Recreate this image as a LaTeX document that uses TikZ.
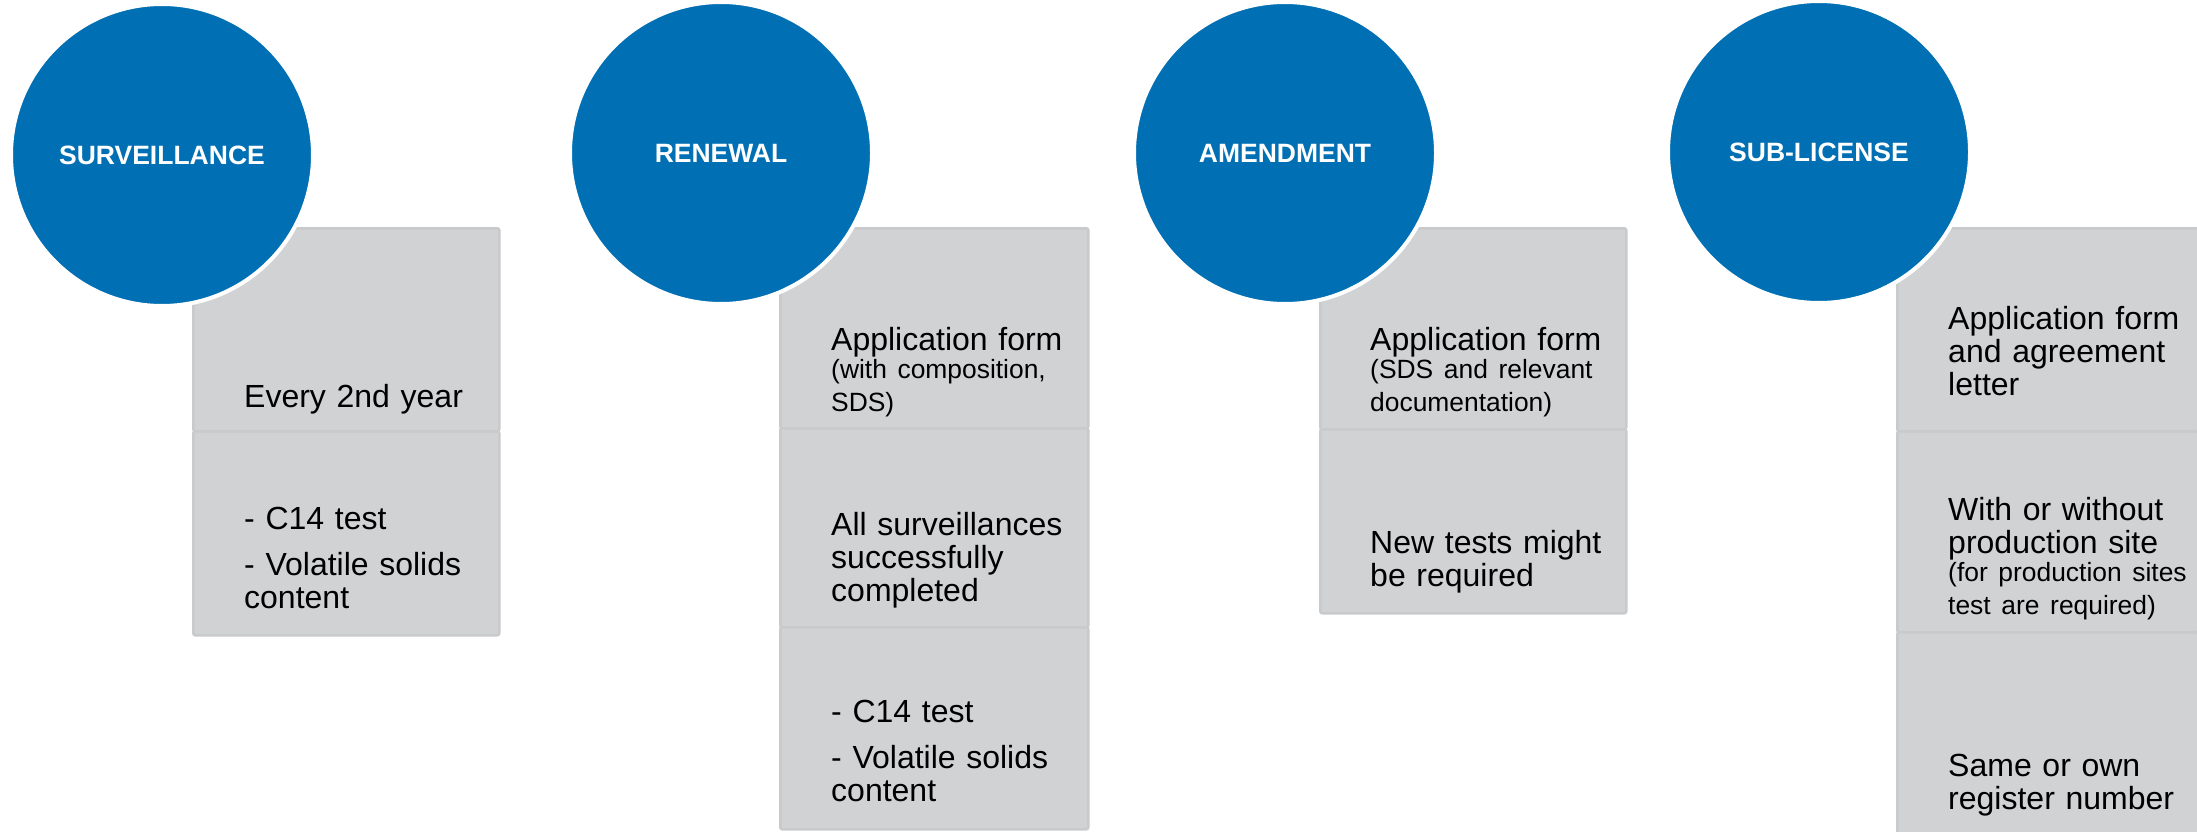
\documentclass[tikz,border=0pt]{standalone}
\usepackage{fontspec}
\setmainfont{Liberation Sans}
\definecolor{cblue}{RGB}{1,111,179}
\definecolor{segfill}{RGB}{209,210,212}
\definecolor{segline}{RGB}{201,202,204}
\newcommand\smtxt{\fontsize{26.4}{28}\selectfont}
\begin{document}
\begin{tikzpicture}[x=1pt,y=-1pt,
  seg/.style={draw=segline, line width=2.5pt, fill=segfill, rounded corners=2pt,
    anchor=north west, inner sep=0pt},
  head/.style={circle, fill=cblue, draw=white, line width=4pt, minimum size=302pt,
    inner sep=0pt, text=white, font=\fontsize{26.5}{28}\selectfont\bfseries},
  txt/.style={anchor=base west, text width=300pt, align=left, inner sep=0pt,
    font=\fontsize{32}{33}\selectfont, execute at begin node={\setlength{\parindent}{0pt}}}]
\useasboundingbox (0,0) rectangle (2197,832);
\clip (0,0) rectangle (2197,832);

% boxes
\node[seg, minimum width=306pt, minimum height=203pt] (b11) at (192,227) {};
\node[seg, minimum width=306pt, minimum height=204pt] (b12) at (192,430) {};
\node[seg, minimum width=308pt, minimum height=200pt] (b21) at (779,227) {};
\node[seg, minimum width=308pt, minimum height=199pt] (b22) at (779,427) {};
\node[seg, minimum width=308pt, minimum height=202pt] (b23) at (779,626) {};
\node[seg, minimum width=306pt, minimum height=201pt] (b31) at (1319,227) {};
\node[seg, minimum width=306pt, minimum height=184pt] (b32) at (1319,428) {};
\node[seg, minimum width=301pt, minimum height=203pt] (b41) at (1896,227) {};
\node[seg, minimum width=301pt, minimum height=201pt] (b42) at (1896,430) {};
\node[seg, minimum width=301pt, minimum height=215pt] (b43) at (1896,631) {};

% circles
\node[head] (c1) at (162,155) {SURVEILLANCE};
\node[head] (c2) at (721,153) {RENEWAL};
\node[head] (c3) at (1285,153) {AMENDMENT};
\node[head] (c4) at (1819,152) {SUB-LICENSE};

% texts
\node[txt] (t11) at (244,407) {Every 2nd year};
\node[txt] (t12) at (244,529) {- C14 test\par\vspace{13pt}- Volatile solids\\content};

\node[txt] (t21) at (831,350) {Application form\par\smtxt (with composition,\\SDS)};
\node[txt] (t22) at (831,535) {All surveillances\\successfully\\completed};
\node[txt] (t23) at (831,722) {- C14 test\par\vspace{13pt}- Volatile solids\\content};

\node[txt] (t31) at (1370,350) {Application form\par\smtxt (SDS and relevant\\documentation)};
\node[txt] (t32) at (1370,553) {New tests might\\be required};

\node[txt] (t41) at (1948,329) {Application form\\and agreement\\letter};
\node[txt] (t42) at (1948,520) {With or without\\production site\par\smtxt (for production sites\\test are required)};
\node[txt] (t43) at (1948,776) {Same or own\\register number};
\end{tikzpicture}
\end{document}
